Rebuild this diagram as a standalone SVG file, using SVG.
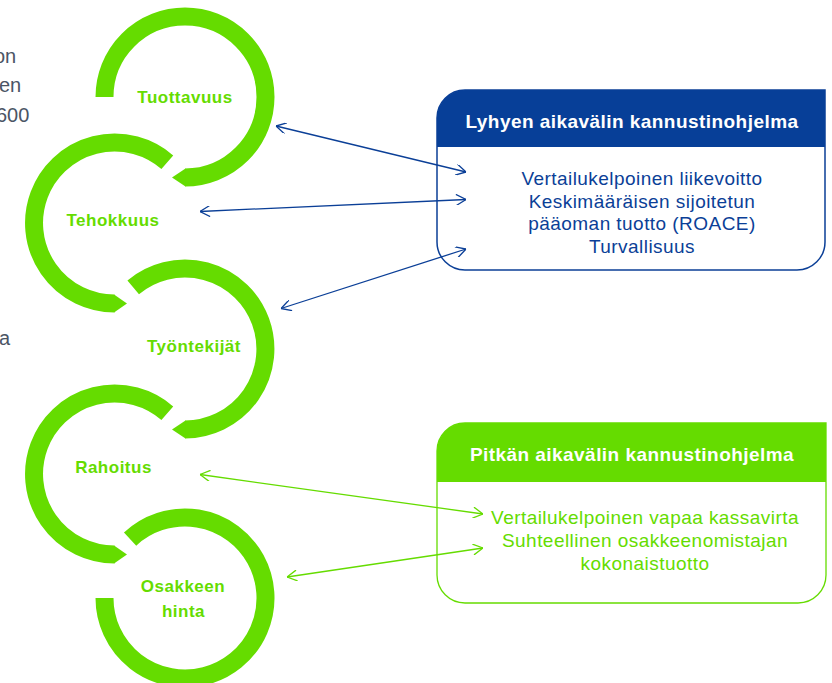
<svg xmlns="http://www.w3.org/2000/svg" width="832" height="683" viewBox="0 0 832 683">
<style>
.ring{fill:none;stroke:#65dc00;stroke-width:18;stroke-linecap:butt}
.tip{fill:#65dc00}
.lbl{font-family:"Liberation Sans",Arial,sans-serif;font-weight:bold;font-size:17px;fill:#65dc00;text-anchor:middle;letter-spacing:0.5px}
.side{font-family:"Liberation Sans",Arial,sans-serif;font-size:20px;fill:#4b5565}
.hdr{font-family:"Liberation Sans",Arial,sans-serif;font-weight:bold;font-size:19px;fill:#ffffff;text-anchor:middle;letter-spacing:0.45px}
.body{font-family:"Liberation Sans",Arial,sans-serif;font-size:19px;text-anchor:middle;letter-spacing:0.45px}
.cb{fill:none;stroke:#0b3f97;stroke-width:1.3}
.cg{fill:none;stroke:#65dc00;stroke-width:1.3}
</style>
<defs>
<marker id="ab" viewBox="0 0 10 10" refX="10" refY="5" markerWidth="11" markerHeight="11" markerUnits="userSpaceOnUse" orient="auto-start-reverse">
<path d="M1,0 L10,5 L1,10" fill="none" stroke="#0b3f97" stroke-width="1.2"/>
</marker>
<marker id="ag" viewBox="0 0 10 10" refX="10" refY="5" markerWidth="11" markerHeight="11" markerUnits="userSpaceOnUse" orient="auto-start-reverse">
<path d="M1,0 L10,5 L1,10" fill="none" stroke="#65dc00" stroke-width="1.2"/>
</marker>
</defs>
<rect width="832" height="683" fill="#ffffff"/>

<g id="side-text">
<text class="side" x="-6" y="63">on</text>
<text class="side" x="-1" y="92">en</text>
<text class="side" x="-4" y="122">600</text>
<text class="side" x="-1" y="345">a</text>
</g>

<g id="tuottavuus">
<path class="ring" d="M104.5,97 A80.5,80.5 0 1 1 185,177.5"/>
<polygon class="tip" points="185.5,168.5 172,177.5 185.5,186.5"/>
<text class="lbl" x="185" y="103">Tuottavuus</text>
</g>

<g id="tehokkuus">
<path class="ring" d="M167.3,162.2 A80.5,80.5 0 1 0 114.5,303.5"/>
<polygon class="tip" points="114,294.5 127,303.5 114,312.5"/>
<text class="lbl" x="113" y="226">Tehokkuus</text>
</g>

<g id="tyontekijat">
<path class="ring" d="M133.2,287.3 A80.5,80.5 0 1 1 185,429.5"/>
<polygon class="tip" points="185.5,420.5 172,429.5 185.5,438.5"/>
<text class="lbl" x="194" y="352">Työntekijät</text>
</g>

<g id="rahoitus">
<path class="ring" d="M167.3,413.2 A80.5,80.5 0 1 0 114.5,554.5"/>
<polygon class="tip" points="114,545.5 127,554.5 114,563.5"/>
<text class="lbl" x="113.5" y="473">Rahoitus</text>
</g>

<g id="osakkeen-hinta">
<path class="ring" d="M130.1,539.1 A80.5,80.5 0 1 1 104.5,598"/>
<text class="lbl" x="183" y="592">Osakkeen</text>
<text class="lbl" x="183.5" y="617">hinta</text>
</g>

<g id="lyhyen">
<path d="M437,118 A28,28 0 0 1 465,90 L825,90 L825,242 A28,28 0 0 1 797,270 L465,270 A28,28 0 0 1 437,242 Z" fill="#ffffff" stroke="#0b3f97" stroke-width="1.5"/>
<path d="M437,118 A28,28 0 0 1 465,90 L825,90 L825,147 L437,147 Z" fill="#073f98"/>
<text class="hdr" x="632" y="128">Lyhyen aikavälin kannustinohjelma</text>
<text class="body" fill="#0b3f97" x="642" y="185">Vertailukelpoinen liikevoitto</text>
<text class="body" fill="#0b3f97" x="642" y="207.5">Keskimääräisen sijoitetun</text>
<text class="body" fill="#0b3f97" x="642" y="230">pääoman tuotto (ROACE)</text>
<text class="body" fill="#0b3f97" x="642" y="252.5">Turvallisuus</text>
</g>

<g id="pitkan">
<path d="M437,451 A28,28 0 0 1 465,423 L826,423 L826,575 A28,28 0 0 1 798,603 L465,603 A28,28 0 0 1 437,575 Z" fill="#ffffff" stroke="#65dc00" stroke-width="1.3"/>
<path d="M437,451 A28,28 0 0 1 465,423 L826,423 L826,482 L437,482 Z" fill="#65dc00"/>
<text class="hdr" x="632" y="461">Pitkän aikavälin kannustinohjelma</text>
<text class="body" fill="#65dc00" x="645" y="524">Vertailukelpoinen vapaa kassavirta</text>
<text class="body" fill="#65dc00" x="645" y="547">Suhteellinen osakkeenomistajan</text>
<text class="body" fill="#65dc00" x="645" y="569.5">kokonaistuotto</text>
</g>

<g id="connectors">
<line class="cb" x1="276" y1="126" x2="466" y2="172" marker-start="url(#ab)" marker-end="url(#ab)"/>
<line class="cb" x1="200" y1="211.5" x2="466" y2="199.5" marker-start="url(#ab)" marker-end="url(#ab)"/>
<line class="cb" x1="281" y1="308.5" x2="466" y2="249" marker-start="url(#ab)" marker-end="url(#ab)"/>
<line class="cg" x1="200" y1="474.5" x2="483" y2="514" marker-start="url(#ag)" marker-end="url(#ag)"/>
<line class="cg" x1="287" y1="577" x2="483" y2="548" marker-start="url(#ag)" marker-end="url(#ag)"/>
</g>
</svg>
